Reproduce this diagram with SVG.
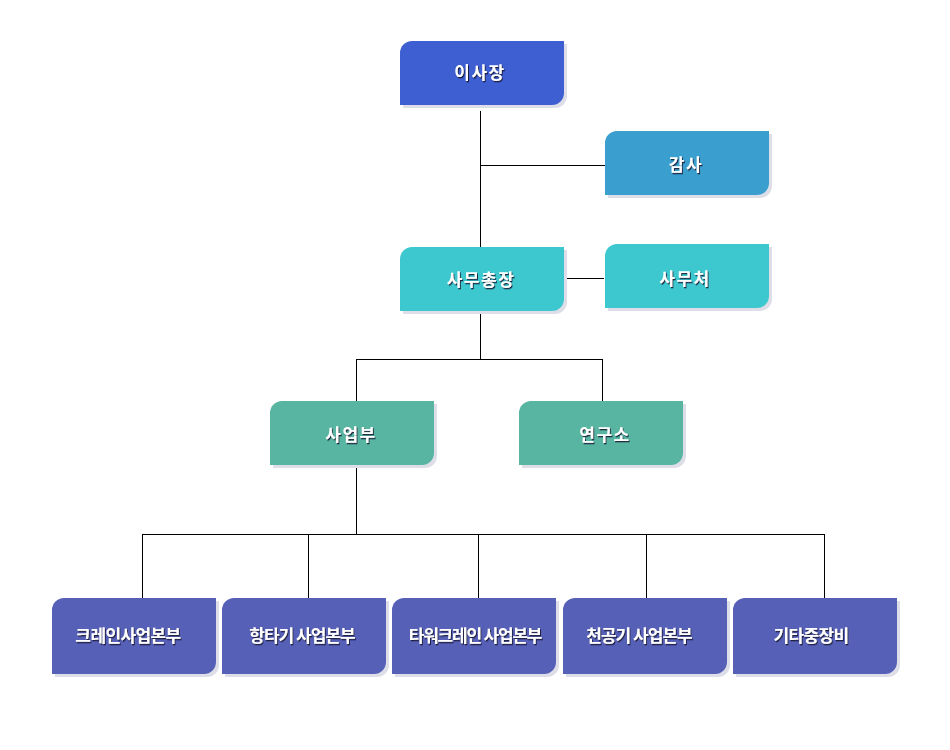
<svg xmlns="http://www.w3.org/2000/svg" xmlns:xlink="http://www.w3.org/1999/xlink" width="950" height="750" viewBox="0 0 950 750">
<style>
.shadow{fill:#dedee8}
.c1{fill:#3d5fd1}
.c2{fill:#3a9fcf}
.c3{fill:#3cc8ce}
.c4{fill:#57b5a2}
.c5{fill:#5660b6}
.lbl{font-family:"Noto Sans CJK KR","Noto Sans",sans-serif;font-weight:700;font-size:17px;fill:#ffffff;text-anchor:middle;filter:url(#ts)}
.sp{letter-spacing:1.5px}
.conn{stroke:#000;stroke-width:1;fill:none;shape-rendering:crispEdges}
</style>
<defs>
<filter id="ts" x="-20%" y="-30%" width="140%" height="160%">
<feDropShadow dx="1" dy="1.3" stdDeviation="0.7" flood-color="#141434" flood-opacity="0.9"/>
</filter>
<path id="b64" d="M12,0 H164 V52 A12,12 0 0 1 152,64 H0 V12 A12,12 0 0 1 12,0 Z"/>
<path id="b76" d="M12,0 H164 V64 A12,12 0 0 1 152,76 H0 V12 A12,12 0 0 1 12,0 Z"/>
</defs>
<rect width="950" height="750" fill="#ffffff"/>
<g id="connectors" class="conn">
<path d="M480.5,111 V247"/>
<path d="M480,165.5 H605"/>
<path d="M564,278.5 H604"/>
<path d="M480.5,311 V359"/>
<path d="M356.5,359.5 H603"/>
<path d="M356.5,359 V401"/>
<path d="M602.5,359 V401"/>
<path d="M356.5,465 V534"/>
<path d="M142,534.5 H825"/>
<path d="M142.5,534 V598"/>
<path d="M308.5,534 V598"/>
<path d="M478.5,534 V598"/>
<path d="M646.5,534 V598"/>
<path d="M824.5,534 V598"/>
</g>
<g id="n-chairman">
<use xlink:href="#b64" x="403" y="44" class="shadow"/>
<use xlink:href="#b64" x="400" y="41" class="c1"/>
<text x="480" y="79" class="lbl sp">이사장</text>
</g>
<g id="n-audit">
<use xlink:href="#b64" x="608" y="134" class="shadow"/>
<use xlink:href="#b64" x="605" y="131" class="c2"/>
<text x="686" y="171" class="lbl sp">감사</text>
</g>
<g id="n-secgen">
<use xlink:href="#b64" x="403" y="250" class="shadow"/>
<use xlink:href="#b64" x="400" y="247" class="c3"/>
<text x="481" y="286" class="lbl sp">사무총장</text>
</g>
<g id="n-office">
<use xlink:href="#b64" x="608" y="247" class="shadow"/>
<use xlink:href="#b64" x="605" y="244" class="c3"/>
<text x="685" y="285" class="lbl sp">사무처</text>
</g>
<g id="n-business">
<use xlink:href="#b64" x="273" y="404" class="shadow"/>
<use xlink:href="#b64" x="270" y="401" class="c4"/>
<text x="351" y="441" class="lbl sp">사업부</text>
</g>
<g id="n-lab">
<use xlink:href="#b64" x="522" y="404" class="shadow"/>
<use xlink:href="#b64" x="519" y="401" class="c4"/>
<text x="605" y="441" class="lbl sp">연구소</text>
</g>
<g id="n-crane">
<use xlink:href="#b76" x="55" y="601" class="shadow"/>
<use xlink:href="#b76" x="52" y="598" class="c5"/>
<text x="128" y="642" class="lbl" letter-spacing="-0.6">크레인사업본부</text>
</g>
<g id="n-pile">
<use xlink:href="#b76" x="225" y="601" class="shadow"/>
<use xlink:href="#b76" x="222" y="598" class="c5"/>
<text x="302" y="642" class="lbl" letter-spacing="-1">항타기 사업본부</text>
</g>
<g id="n-tower">
<use xlink:href="#b76" x="395" y="601" class="shadow"/>
<use xlink:href="#b76" x="392" y="598" class="c5"/>
<text x="475" y="642" class="lbl" letter-spacing="-1.2">타워크레인 사업본부</text>
</g>
<g id="n-drill">
<use xlink:href="#b76" x="566" y="601" class="shadow"/>
<use xlink:href="#b76" x="563" y="598" class="c5"/>
<text x="639" y="642" class="lbl" letter-spacing="-1">천공기 사업본부</text>
</g>
<g id="n-other">
<use xlink:href="#b76" x="736" y="601" class="shadow"/>
<use xlink:href="#b76" x="733" y="598" class="c5"/>
<text x="811" y="642" class="lbl" letter-spacing="-0.6">기타중장비</text>
</g>
</svg>
